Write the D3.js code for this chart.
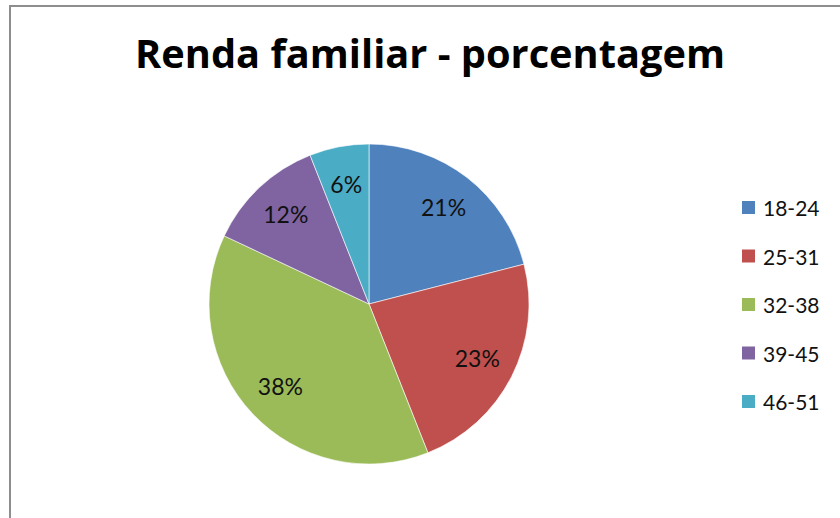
<!DOCTYPE html>
<html>
<head>
<meta charset="utf-8">
<script src="https://cdn.jsdelivr.net/npm/d3@7"></script>
<style>
  html, body { margin: 0; padding: 0; background: #fff; overflow: hidden; }
  svg { display: block; }
</style>
</head>
<body>
<div id="chart"></div>
<script>
// Faixas etárias e percentuais
var categories = ["18-24", "25-31", "32-38", "39-45", "46-51"];
var values = [21, 23, 38, 12, 6];
var colors = ["#4f81bd", "#c0504d", "#9bbb59", "#8064a2", "#4bacc6"];
var title = "Renda familiar - porcentagem";

var width = 840, height = 518;
var center = {x: 369, y: 304};
var radius = 160;

var svg = d3.select("#chart").append("svg")
    .attr("width", width)
    .attr("height", height);

// chart area border (only top and left visible in the crop)
svg.append("rect")
    .attr("x", 10)
    .attr("y", 6)
    .attr("width", width + 20)
    .attr("height", height + 20)
    .style("fill", "#fff")
    .style("stroke", "#8e8e8e")
    .style("stroke-width", 2);

svg.append("text")
    .attr("x", 430)
    .attr("y", 68)
    .attr("text-anchor", "middle")
    .attr("textLength", 590)
    .attr("lengthAdjust", "spacingAndGlyphs")
    .style("font-family", "'Open Sans', Lato, sans-serif")
    .style("font-weight", "bold")
    .style("font-size", "39px")
    .style("fill", "#000")
    .text(title);

var data = categories.map(function(c, i) { return {name: c, value: values[i]}; });

var pie = d3.pie()
    .sort(null)
    .value(function(d) { return d.value; });

var arc = d3.arc().innerRadius(0).outerRadius(radius);
var labelArc = d3.arc().innerRadius(radius * 0.76).outerRadius(radius * 0.76);

var color = d3.scaleOrdinal().domain(categories).range(colors);

var g = svg.append("g")
    .attr("transform", "translate(" + center.x + "," + center.y + ")");

var slices = g.selectAll(".slice")
    .data(pie(data))
    .enter().append("g")
    .attr("class", "slice");

slices.append("path")
    .attr("d", arc)
    .style("fill", function(d) { return color(d.data.name); })
    .style("stroke", "#fff")
    .style("stroke-width", 0.6);

slices.append("text")
    .attr("transform", function(d) { return "translate(" + labelArc.centroid(d) + ")"; })
    .attr("dy", "0.35em")
    .attr("text-anchor", "middle")
    .style("font-family", "Lato, 'Open Sans', sans-serif")
    .style("font-size", "23px")
    .style("fill", "#111")
    .text(function(d) { return d.data.value + "%"; });

// legend
var legend = svg.append("g")
    .attr("transform", "translate(742, 208)");

var item = legend.selectAll(".item")
    .data(categories)
    .enter().append("g")
    .attr("class", "item")
    .attr("transform", function(d, i) { return "translate(0," + (i * 48.5) + ")"; });

item.append("rect")
    .attr("x", 0)
    .attr("y", -7)
    .attr("width", 13)
    .attr("height", 13)
    .style("fill", function(d) { return color(d); });

item.append("text")
    .attr("x", 21)
    .attr("y", 8)
    .style("font-family", "Lato, 'Open Sans', sans-serif")
    .style("font-size", "21px")
    .style("fill", "#111")
    .text(function(d) { return d; });
</script>
</body>
</html>
